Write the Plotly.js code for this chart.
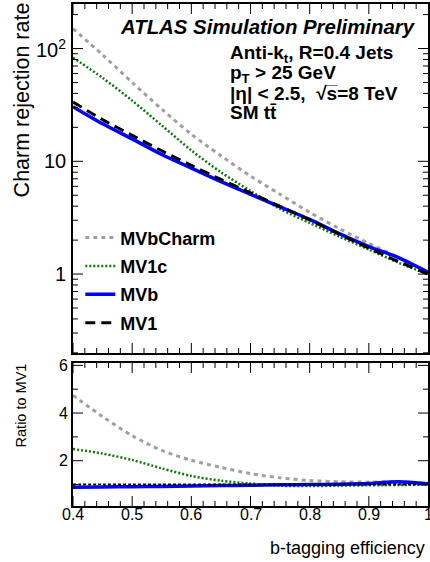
<!DOCTYPE html>
<html>
<head>
<meta charset="utf-8">
<script src="https://cdn.plot.ly/plotly-3.0.1.min.js"></script>
<style>html,body{margin:0;padding:0;background:#fff;}#plot{width:430px;height:562px;}</style>
</head>
<body>
<div id="plot"></div>
<script>
// b-tagging efficiency grid
var effs = [0.40,0.45,0.50,0.55,0.60,0.65,0.70,0.75,0.80,0.85,0.90,0.95,1.00];
// charm rejection (main panel)
var rejMVbCharm = [150, 88, 50, 29, 17.4, 11.2, 7.4, 5.1, 3.53, 2.53, 1.87, 1.40, 1.04];
var rejMV1c     = [83, 55, 34.5, 20.8, 12.5, 8.0, 5.46, 3.78, 2.84, 2.15, 1.65, 1.26, 1.0];
var rejMVb      = [30.5, 21.5, 15.8, 11.5, 8.7, 6.6, 5.1, 3.95, 3.05, 2.28, 1.75, 1.40, 1.04];
var rejMV1      = [33.5, 23.4, 17.0, 12.4, 9.2, 6.9, 5.25, 3.98, 3.02, 2.26, 1.70, 1.29, 1.0];
// ratio to MV1 (lower panel)
var ratioMVbCharm = [4.74, 3.85, 3.05, 2.43, 2.02, 1.72, 1.46, 1.28, 1.17, 1.12, 1.10, 1.12, 1.03];
var ratioMV1c     = [2.49, 2.30, 2.03, 1.68, 1.36, 1.16, 1.04, 0.95, 0.94, 0.95, 0.97, 0.98, 1.0];
var ratioMVb      = [0.89, 0.90, 0.91, 0.92, 0.94, 0.96, 0.97, 0.99, 1.00, 1.01, 1.04, 1.12, 1.03];
var ratioMV1      = [1,1,1,1,1,1,1,1,1,1,1,1,1];
// tick labels and tick positions
var xTickVals = [0.4,0.5,0.6,0.7,0.8,0.9,1.0];
var xTickText = ['0.4','0.5','0.6','0.7','0.8','0.9','1'];
var xMinorVals = [0.42,0.44,0.46,0.48,0.52,0.54,0.56,0.58,0.62,0.64,0.66,0.68,0.72,0.74,0.76,0.78,0.82,0.84,0.86,0.88,0.92,0.94,0.96,0.98];
var yTickVals = [1,10,100];
var yTickText = ['1','10','10<sup>2</sup>'];
var yMinorVals = [0.2,0.3,0.4,0.5,0.6,0.7,0.8,0.9,2,3,4,5,6,7,8,9,20,30,40,50,60,70,80,90,200];
var rTickVals = [2,4,6];
var rTickText = ['2','4','6'];
var rMinorVals = [1,3,5];

var FONT = 'Liberation Sans, Arial, Helvetica, sans-serif';
var styles = {
  MVbCharm: {color:'#a0a0a0', width:3, dash:'4px,4px'},
  MV1c:     {color:'#0a7a0a', width:2.5, dash:'2px,2px'},
  MVb:      {color:'#0000ff', width:3.5, dash:'solid'},
  MV1:      {color:'#000000', width:3, dash:'10px,6px'}
};
function tr(name, y, xa, ya, leg, st){
  return {x: effs, y: y, name: name, type:'scatter', mode:'lines', xaxis: xa, yaxis: ya,
    line: {color: st.color, width: st.width, dash: st.dash, shape:'spline', smoothing:0.8},
    showlegend: leg, legendgroup: name, hoverinfo:'skip'};
}
var data = [
  tr('MVbCharm', rejMVbCharm, 'x2','y2', true, styles.MVbCharm),
  tr('MV1c', rejMV1c, 'x2','y2', true, styles.MV1c),
  tr('MVb', rejMVb, 'x2','y2', true, styles.MVb),
  tr('MV1', rejMV1, 'x2','y2', true, styles.MV1),
  tr('MVbCharm', ratioMVbCharm, 'x','y', false, styles.MVbCharm),
  tr('MV1c', ratioMV1c, 'x','y', false, styles.MV1c),
  tr('MVb', ratioMVb, 'x','y', false, styles.MVb),
  tr('MV1', ratioMV1, 'x','y', false, {color:'#000', width:2, dash:'3px,2px'})
];

// geometry of the two panels (paper fractions) and axis ranges
var RATIO_DOM = [0, 0.2849], MAIN_DOM = [0.3048, 1];
var X_RANGE = [0.4, 1.0], R_RANGE = [0.1, 6.1], M_RANGE = [-0.70, 2.395];
var PLOT_W = 430 - 72.7 - 1.5, PLOT_H = 562 - 4 - 56;
var MAJ = 10, MIN = 5;

function ax(extra){
  var base = {showline:true, linecolor:'black', linewidth:2, mirror:true, ticks:'', showgrid:false, zeroline:false};
  for (var k in extra) base[k] = extra[k];
  return base;
}

// frame tick marks, drawn inward on all four sides of each panel
var shapes = [];
function xTick(v, len, xref){
  var dy = len / PLOT_H;
  var edges = xref === 'x' ? RATIO_DOM : MAIN_DOM;
  shapes.push({type:'line', xref:xref, yref:'paper', x0:v, x1:v, y0:edges[0], y1:edges[0]+dy, line:{color:'black', width:1}});
  shapes.push({type:'line', xref:xref, yref:'paper', x0:v, x1:v, y0:edges[1], y1:edges[1]-dy, line:{color:'black', width:1}});
}
function yTick(frac, len){
  var dx = len / PLOT_W;
  shapes.push({type:'line', xref:'paper', yref:'paper', x0:0, x1:dx, y0:frac, y1:frac, line:{color:'black', width:1}});
  shapes.push({type:'line', xref:'paper', yref:'paper', x0:1, x1:1-dx, y0:frac, y1:frac, line:{color:'black', width:1}});
}
function mainFrac(v){ return MAIN_DOM[0] + (Math.log10(v) - M_RANGE[0]) / (M_RANGE[1] - M_RANGE[0]) * (MAIN_DOM[1] - MAIN_DOM[0]); }
function ratioFrac(v){ return RATIO_DOM[0] + (v - R_RANGE[0]) / (R_RANGE[1] - R_RANGE[0]) * (RATIO_DOM[1] - RATIO_DOM[0]); }
['x','x2'].forEach(function(xr){
  xTickVals.forEach(function(v){ if (v < 1.0) xTick(v, MAJ, xr); });
  xMinorVals.forEach(function(v){ xTick(v, MIN, xr); });
});
yTickVals.forEach(function(v){ yTick(mainFrac(v), MAJ); });
yMinorVals.forEach(function(v){ yTick(mainFrac(v), MIN); });
rTickVals.forEach(function(v){ yTick(ratioFrac(v), MAJ); });
rMinorVals.forEach(function(v){ yTick(ratioFrac(v), MIN); });

var anns = [
    {text:'<b><i>ATLAS Simulation Preliminary</i></b>', xref:'paper', yref:'paper', x:0.9705, y:0.9542,
     xanchor:'right', yanchor:'middle', showarrow:false, font:{size:20.4}},
    {text:'<b>Anti-k<sub>t</sub>, R=0.4 Jets</b>', xref:'paper', yref:'paper', x:0.4365, y:0.9004,
     xanchor:'left', yanchor:'middle', showarrow:false, font:{size:19}},
    {text:'<b>p<sub>T</sub> > 25 GeV</b>', xref:'paper', yref:'paper', x:0.4365, y:0.8606,
     xanchor:'left', yanchor:'middle', showarrow:false, font:{size:19}},
    {text:'<b>|η| < 2.5,  √s\u0305=8 TeV</b>', xref:'paper', yref:'paper', x:0.4365, y:0.8227,
     xanchor:'left', yanchor:'middle', showarrow:false, font:{size:19}},
    {text:'<b>SM tt\u0304</b>', xref:'paper', yref:'paper', x:0.4365, y:0.7829,
     xanchor:'left', yanchor:'middle', showarrow:false, font:{size:19}},
    {text:'Charm rejection rate', xref:'paper', yref:'paper', x:-0.1425, y:0.8088,
     xanchor:'center', yanchor:'middle', textangle:-90, showarrow:false, font:{size:21.5}},
    {text:'Ratio to MV1', xref:'paper', yref:'paper', x:-0.1453, y:0.2012,
     xanchor:'center', yanchor:'middle', textangle:-90, showarrow:false, font:{size:14.5}},
    {text:'b-tagging efficiency', xref:'paper', yref:'paper', x:0.9958, y:-0.0837,
     xanchor:'right', yanchor:'middle', showarrow:false, font:{size:18}}
];
// tick labels placed through the axes' own scales
xTickVals.forEach(function(v, i){
  anns.push({text:xTickText[i], xref:'x', yref:'paper', x:v, y:-0.0179, xanchor:'center', yanchor:'middle',
    showarrow:false, font:{size:16}, borderpad:0});
});
yTickVals.forEach(function(v, i){
  anns.push({text:yTickText[i], xref:'paper', yref:'y2', x:-0.016, y:Math.log10(v), xanchor:'right', yanchor:'middle',
    showarrow:false, font:{size:20}, borderpad:0});
});

var layout = {
  width:430, height:562,
  margin:{l:72.7, r:1.5, t:4, b:56},
  font:{family:FONT, color:'black'},
  showlegend:true,
  legend:{x:0.0206, y:0.571, xanchor:'left', yanchor:'top', bgcolor:'rgba(0,0,0,0)',
    font:{family:FONT, size:18, weight:'bold', color:'black'}, itemwidth:30, tracegroupgap:2,
    traceorder:'grouped'},
  xaxis: ax({domain:[0,1], anchor:'y', range:X_RANGE, showticklabels:false}),
  xaxis2: ax({domain:[0,1], anchor:'y2', range:X_RANGE, showticklabels:false}),
  yaxis: ax({domain:RATIO_DOM, anchor:'x', range:R_RANGE,
    tickmode:'array', tickvals:rTickVals, ticktext:rTickText, tickfont:{size:16}}),
  yaxis2: ax({domain:MAIN_DOM, anchor:'x2', type:'log', range:M_RANGE,
    tickmode:'array', tickvals:yTickVals, showticklabels:false}),
  shapes: shapes,
  annotations: anns
};
Plotly.newPlot('plot', data, layout, {displayModeBar:false, staticPlot:true});
</script>
</body>
</html>
